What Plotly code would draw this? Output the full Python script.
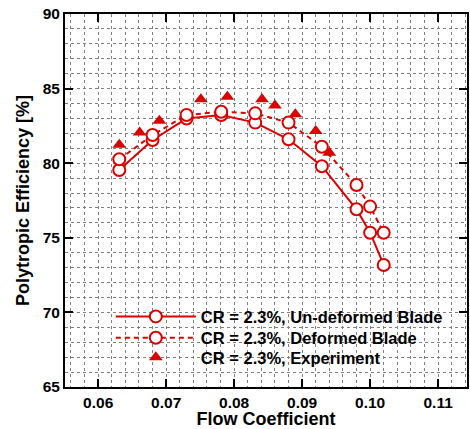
import plotly.graph_objects as go

red = "#dd0000"

x_sim = [0.0631, 0.0680, 0.0730, 0.0781, 0.0831, 0.0880, 0.0929, 0.0980, 0.1000, 0.1020]
eff_undeformed = [79.54, 81.55, 83.0, 83.23, 82.72, 81.6, 79.8, 76.91, 75.34, 73.18]
eff_deformed = [80.26, 81.89, 83.23, 83.45, 83.34, 82.72, 81.1, 78.54, 77.09, 75.34]

x_exp = [0.0631, 0.0661, 0.0690, 0.0751, 0.0790, 0.0841, 0.0860, 0.0890, 0.0920, 0.0940]
eff_exp = [81.24, 82.05, 82.85, 84.28, 84.46, 84.28, 83.86, 83.28, 82.16, 80.7]

names = ["CR = 2.3%, Un-deformed Blade", "CR = 2.3%, Deformed Blade", "CR = 2.3%, Experiment"]

fig = go.Figure()
fig.add_trace(go.Scatter(
    x=x_sim, y=eff_undeformed, name=names[0], mode="lines+markers", legend="legend",
    line=dict(color=red, width=2),
    marker=dict(symbol="circle", size=12, color="white", line=dict(color=red, width=2)),
))
fig.add_trace(go.Scatter(
    x=x_sim, y=eff_deformed, name=names[1], mode="lines+markers", legend="legend2",
    line=dict(color=red, width=2, dash="5px,4px"),
    marker=dict(symbol="circle", size=12, color="white", line=dict(color=red, width=2)),
))
fig.add_trace(go.Scatter(
    x=x_exp, y=eff_exp, name=names[2], mode="markers", legend="legend3",
    marker=dict(symbol="triangle-up", size=12, color=red),
))

font_family = "Liberation Sans, Arial, sans-serif"
legend_common = dict(
    xanchor="left", yanchor="middle", bgcolor="rgba(0,0,0,0)", itemwidth=80,
    font=dict(size=16.5, family=font_family, weight="bold"),
)
lx = 0.114
fig.update_layout(
    width=470, height=429,
    margin=dict(l=65, r=1, t=14, b=42),
    paper_bgcolor="white", plot_bgcolor="white",
    font=dict(family=font_family, color="black"),
    showlegend=True,
    legend=dict(x=lx, y=0.1885, **legend_common),
    legend2=dict(x=lx, y=0.1314, **legend_common),
    legend3=dict(x=lx, y=0.0791, **legend_common),
)
common = dict(
    showline=True, linecolor="black", linewidth=2, mirror="ticks",
    ticks="inside", ticklen=8, tickwidth=2, tickcolor="black",
    showgrid=True, gridcolor="#808080", gridwidth=1, griddash="dot",
    zeroline=False,
    tickfont=dict(size=15.5, family=font_family, weight="bold"),
)
fig.update_xaxes(
    range=[0.05512, 0.11425], tick0=0.06, dtick=0.01, tickformat=".2f",
    minor=dict(dtick=0.002, tick0=0.06, showgrid=True, gridcolor="#808080", griddash="dot", gridwidth=1, ticks=""),
    title=dict(text="Flow Coefficient", font=dict(size=18, family=font_family, weight="bold"), standoff=4),
    **common,
)
fig.update_yaxes(
    range=[65, 90], tick0=65, dtick=5,
    minor=dict(dtick=1, showgrid=True, gridcolor="#808080", griddash="dot", gridwidth=1, ticks=""),
    title=dict(text="Polytropic Efficiency [%]", font=dict(size=18, family=font_family, weight="bold"), standoff=8),
    **common,
)

fig.write_html("out.html")
